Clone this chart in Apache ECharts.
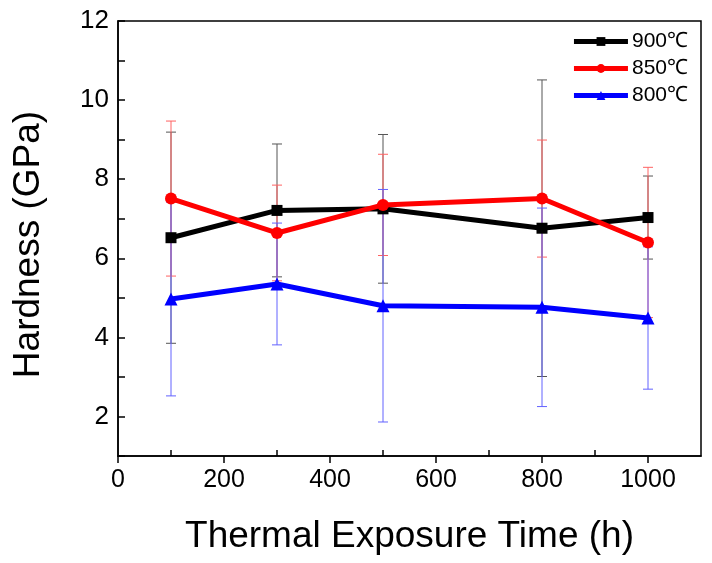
<!DOCTYPE html>
<html>
<head>
<meta charset="utf-8">
<script src="https://cdn.jsdelivr.net/npm/echarts@6.0.0/dist/echarts.min.js"></script>
<style>
  html, body { margin: 0; padding: 0; background: #fff; }
  #mychart { width: 712px; height: 563px; }
</style>
</head>
<body>
<div id="mychart"></div>
<script>
// exposure time (h)
var times = [100, 300, 500, 800, 1000]

// hardness (GPa) and error (+/-) per temperature
var names = ['900℃', '850℃', '800℃']
var h900 = [6.52, 7.21, 7.25, 6.76, 7.03]
var e900 = [2.67, 1.68, 1.88, 3.75, 1.05]
var h850 = [7.51, 6.64, 7.35, 7.51, 6.40]
var e850 = [1.96, 1.21, 1.28, 1.48, 1.90]
var h800 = [4.97, 5.35, 4.80, 4.76, 4.49]
var e800 = [2.45, 1.54, 2.94, 2.51, 1.80]

var xTicks = [0, 200, 400, 600, 800, 1000]
var xMinorTicks = [100, 300, 500, 700, 900]
var yLabels = [2, 4, 6, 8, 10, 12]

var font = "'Liberation Sans', Arial, sans-serif"
var lineColors = ['#000000', '#ff0000', '#0000ff']
var barColors = ['#555555', '#ff6262', '#6262ff']
var symbols = ['rect', 'circle', 'triangle']
var symbolSizes = [11, 12, 13]

function pairs (ys) {
  return times.map(function (t, i) { return [t, ys[i]] })
}

function errRange (ys, es) {
  return times.map(function (t, i) { return [t, ys[i] - es[i], ys[i] + es[i]] })
}

function errorSeries (ys, es, color) {
  return {
    type: 'custom',
    xAxisIndex: 0,
    z: 1,
    silent: true,
    data: errRange(ys, es),
    renderItem: function (params, api) {
      var top = api.coord([api.value(0), api.value(2)])
      var bot = api.coord([api.value(0), api.value(1)])
      var cap = 5
      var style = { stroke: color, lineWidth: 1 }
      return {
        type: 'group',
        children: [
          { type: 'line', shape: { x1: top[0], y1: top[1], x2: bot[0], y2: bot[1] }, style: style },
          { type: 'line', shape: { x1: top[0] - cap, y1: top[1], x2: top[0] + cap, y2: top[1] }, style: style },
          { type: 'line', shape: { x1: bot[0] - cap, y1: bot[1], x2: bot[0] + cap, y2: bot[1] }, style: style }
        ]
      }
    }
  }
}

function lineSeries (index, ys) {
  return {
    name: names[index],
    type: 'line',
    xAxisIndex: 0,
    z: 3 + index,
    data: pairs(ys),
    symbol: symbols[index],
    symbolSize: symbolSizes[index],
    itemStyle: { color: lineColors[index] },
    lineStyle: { color: lineColors[index], width: 5 },
    emphasis: { disabled: true }
  }
}

var chart = echarts.init(document.getElementById('mychart'))

var option = {
  animation: false,
  backgroundColor: '#fff',
  textStyle: { fontFamily: font },
  grid: {
    left: 118,
    right: 11,
    top: 21,
    bottom: 107,
    show: true,
    borderColor: '#000',
    borderWidth: 1.5
  },
  legend: {
    orient: 'vertical',
    right: 19,
    top: 26,
    itemWidth: 54,
    itemHeight: 11,
    itemGap: 6,
    lineStyle: { width: 5 },
    textStyle: { fontSize: 21, color: '#000', fontFamily: font, padding: [0, 0, 0, -1] },
    data: names
  },
  xAxis: [
    {
      type: 'value',
      min: 0,
      max: 1100,
      interval: 200,
      name: 'Thermal Exposure Time (h)',
      nameLocation: 'middle',
      nameGap: 62,
      nameTextStyle: { fontSize: 37, color: '#000', fontFamily: font },
      axisLine: { lineStyle: { color: '#000', width: 1.5 } },
      axisTick: { inside: false, length: 7, lineStyle: { color: '#000', width: 1.5 } },
      axisLabel: {
        fontSize: 25,
        color: '#000',
        margin: 12,
        showMaxLabel: false,
        formatter: function (v) { return xTicks.indexOf(v) >= 0 ? v : '' }
      },
      splitLine: { show: false }
    },
    {
      // inward minor ticks at the odd hundreds
      type: 'value',
      position: 'bottom',
      min: 0,
      max: 1100,
      axisLine: { show: false },
      axisTick: { inside: true, length: 6, customValues: xMinorTicks, lineStyle: { color: '#000', width: 1.5 } },
      axisLabel: { show: false },
      splitLine: { show: false }
    }
  ],
  yAxis: {
    type: 'value',
    min: 1,
    max: 12,
    interval: 1,
    name: 'Hardness (GPa)',
    nameLocation: 'middle',
    nameGap: 71,
    nameTextStyle: { fontSize: 37, color: '#000', fontFamily: font, padding: [0, 0, 0, -12] },
    axisLine: { show: true, lineStyle: { color: '#000', width: 1.5 } },
    axisTick: { inside: true, length: 7, lineStyle: { color: '#000', width: 1.5 } },
    axisLabel: {
      fontSize: 26,
      color: '#000',
      margin: 9,
      formatter: function (v) { return yLabels.indexOf(v) >= 0 ? v : '' }
    },
    splitLine: { show: false }
  },
  series: [
    errorSeries(h900, e900, barColors[0]),
    errorSeries(h850, e850, barColors[1]),
    errorSeries(h800, e800, barColors[2]),
    lineSeries(0, h900),
    lineSeries(1, h850),
    lineSeries(2, h800)
  ]
}

chart.setOption(option)
</script>
</body>
</html>
